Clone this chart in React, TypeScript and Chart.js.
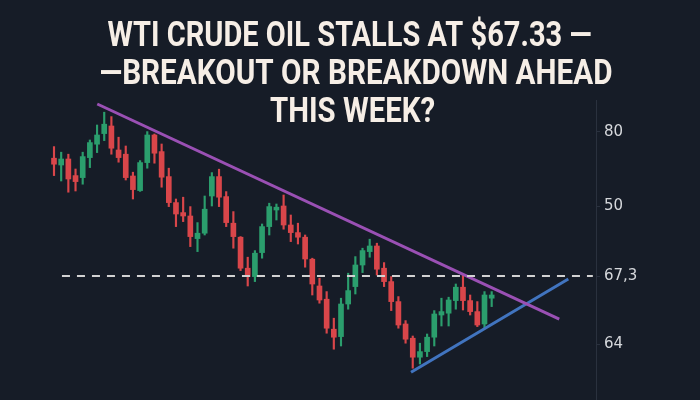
import { useEffect, useRef } from "react";
import { Chart, registerables } from "chart.js";

Chart.register(...registerables);

// ---- Data ----
const titleLines = [
  "WTI CRUDE OIL STALLS AT $67.33 —",
  "—BREAKOUT OR BREAKDOWN AHEAD",
  "THIS WEEK?",
];

const opens = [
  73.19, 72.85, 73.15, 72.32, 72.22, 73.22, 73.89, 74.42, 74.8, 73.6,
  73.39, 72.3, 71.57, 72.97, 74.35, 73.52, 72.27, 70.97, 70.47, 70.3,
  69.17, 69.44, 71.3, 72.27, 71.27, 69.94, 69.24, 67.69, 67.27, 68.47,
  69.77, 70.6, 70.8, 69.85, 69.47, 69.24, 68.14, 66.8, 66.14, 64.64,
  64.27, 65.9, 66.77, 67.85, 68.52, 68.8, 67.69, 67.02, 66.02, 64.9,
  64.19, 63.24, 63.52, 64.24, 65.35, 65.44, 66.07, 66.74, 66.07, 65.52,
  64.9, 66.19,
];
const highs = [
  73.77, 73.49, 73.39, 72.65, 73.49, 74.1, 74.85, 75.49, 75.27, 74.24,
  73.8, 72.49, 73.07, 74.52, 74.4, 73.9, 72.69, 71.15, 71.24, 70.77,
  69.97, 71.3, 72.47, 72.64, 71.52, 70.52, 69.27, 68.24, 68.57, 69.9,
  70.94, 70.9, 71.35, 70.35, 69.94, 69.35, 68.19, 67.19, 66.52, 65.19,
  66.19, 67.44, 68.27, 68.69, 69.14, 68.94, 67.97, 67.27, 66.27, 65.07,
  64.3, 63.94, 64.4, 65.57, 66.19, 66.24, 66.9, 67.35, 66.35, 66.02,
  66.52, 66.52,
];
const lows = [
  72.32, 72.05, 71.49, 71.55, 71.89, 72.72, 73.47, 74.07, 73.39, 72.99,
  72.1, 71.15, 71.53, 72.69, 72.94, 71.74, 70.77, 69.77, 70.02, 68.77,
  68.52, 69.35, 70.8, 70.77, 69.77, 68.69, 67.57, 66.8, 67.02, 68.19,
  69.35, 70.1, 69.64, 69.02, 68.9, 67.74, 66.35, 65.94, 64.44, 63.64,
  63.8, 65.64, 66.4, 67.47, 68.24, 67.35, 66.77, 65.57, 64.69, 63.94,
  62.69, 62.9, 63.27, 63.8, 64.8, 64.8, 65.64, 65.6, 65.35, 64.77,
  64.69, 65.77,
];
const closes = [
  72.89, 73.15, 72.15, 72.02, 73.27, 73.97, 74.35, 74.89, 73.69, 73.22,
  72.22, 71.62, 72.97, 74.35, 73.44, 72.24, 70.97, 70.4, 70.3, 69.27,
  69.44, 70.64, 72.27, 71.24, 69.97, 69.27, 67.69, 67.27, 68.44, 69.77,
  70.77, 70.74, 69.85, 69.47, 69.24, 68.15, 66.9, 66.1, 64.69, 64.24,
  65.9, 66.57, 67.85, 68.57, 68.8, 67.64, 67.02, 66.02, 64.85, 64.14,
  63.24, 63.52, 64.24, 65.4, 65.52, 66.1, 66.74, 66.07, 65.52, 64.85,
  66.35, 66.35,
];

const tickValues = [74.5, 70.77, 67.3, 63.87];
const tickLabels = ["80", "50", "67,3", "64"];

const resistanceLine = [
  { x: 6.03, y: 75.9 },
  { x: 70.42, y: 65.14 },
];
const supportLine = [
  { x: 49.76, y: 62.49 },
  { x: 71.68, y: 67.15 },
];
const pivotLevel = 67.3;
const pivotStartEnd = [1.11, 75.1];

// ---- Styles / layout ----
const BG = "#161c27";
const GREEN = "#2b9e6d";
const RED = "#d9464a";
const TITLE_LAYOUT = [
  { cx: 349.5, base: 46, width: 484 },
  { cx: 356, base: 84, width: 513 },
  { cx: 352.5, base: 122, width: 165 },
];

const candleIdx = opens.map((_, i) => i);
const isUp = (i: number) => closes[i] >= opens[i];

const titlePlugin = {
  id: "customTitleBg",
  beforeDraw(chart: any) {
    const ctx = chart.ctx;
    ctx.save();
    ctx.fillStyle = BG;
    ctx.fillRect(0, 0, chart.width, chart.height);
    ctx.restore();
  },
  afterDraw(chart: any) {
    const ctx = chart.ctx;
    ctx.save();
    ctx.fillStyle = "#f6eee6";
    ctx.font = 'bold 35px Roboto, "DejaVu Sans", sans-serif';
    ctx.textAlign = "center";
    ctx.textBaseline = "alphabetic";
    titleLines.forEach((t, i) => {
      const L = TITLE_LAYOUT[i];
      const w = ctx.measureText(t).width;
      ctx.save();
      ctx.translate(L.cx, L.base);
      ctx.scale(L.width / w, 1);
      ctx.fillText(t, 0, 0);
      ctx.restore();
    });
    ctx.restore();
  },
};

export default function App() {
  const ref = useRef<HTMLCanvasElement | null>(null);

  useEffect(() => {
    document.body.style.margin = "0";
    document.body.style.background = BG;
    const canvas = ref.current;
    if (!canvas) return;

    const colors = candleIdx.map((i) => (isUp(i) ? GREEN : RED));

    const chart = new Chart(canvas, {
      type: "bar",
      data: {
        datasets: [
          {
            type: "line",
            label: "pivot",
            data: [
              { x: pivotStartEnd[0], y: pivotLevel },
              { x: pivotStartEnd[1], y: pivotLevel },
            ],
            borderColor: "#d2d2d2",
            borderWidth: 2,
            borderDash: [8, 7],
            pointRadius: 0,
            fill: false,
            order: 0,
          } as any,
          {
            type: "line",
            label: "resistance",
            data: resistanceLine,
            borderColor: "#9a50b4",
            borderWidth: 3,
            pointRadius: 0,
            fill: false,
            order: 0,
          } as any,
          {
            type: "line",
            label: "support",
            data: supportLine,
            borderColor: "#4174bf",
            borderWidth: 3,
            pointRadius: 0,
            fill: false,
            order: 0,
          } as any,
          {
            type: "bar",
            label: "body",
            data: candleIdx.map((i) => ({ x: i, y: [opens[i], closes[i]] })),
            backgroundColor: colors,
            borderWidth: 0,
            barThickness: 5,
            grouped: false,
            order: 1,
          } as any,
          {
            type: "bar",
            label: "wick",
            data: candleIdx.map((i) => ({ x: i, y: [lows[i], highs[i]] })),
            backgroundColor: colors,
            borderWidth: 0,
            barThickness: 1.5,
            grouped: false,
            order: 2,
          } as any,
        ],
      },
      options: {
        animation: false,
        responsive: false,
        maintainAspectRatio: false,
        layout: { padding: { top: 100, left: 0, right: 0, bottom: 0 } },
        plugins: {
          legend: { display: false },
          tooltip: { enabled: false },
          title: { display: false },
        },
        scales: {
          x: {
            type: "linear",
            display: false,
            offset: false,
            min: -7.526,
            max: 75.54,
          },
          y: {
            type: "linear",
            position: "right",
            min: 61.1,
            max: 76.1,
            afterBuildTicks: (scale: any) => {
              scale.ticks = tickValues.map((v) => ({ value: v }));
            },
            afterFit: (scale: any) => {
              scale.width = 104;
              scale.paddingTop = 0;
              scale.paddingBottom = 0;
            },
            border: { display: true, color: "#2a313e", width: 1 },
            grid: {
              display: true,
              drawOnChartArea: false,
              drawTicks: true,
              tickLength: 4,
              color: "#2a313e",
            },
            ticks: {
              padding: 4,
              color: "#d6d8dc",
              font: { family: '"DejaVu Sans", sans-serif', size: 15 },
              callback: (_v: any, index: number) => tickLabels[index],
            },
          },
        },
      },
      plugins: [titlePlugin],
    });

    return () => chart.destroy();
  }, []);

  return (
    <div style={{ width: 700, height: 400, background: BG }}>
      <canvas ref={ref} width={700} height={400} style={{ display: "block" }} />
    </div>
  );
}
